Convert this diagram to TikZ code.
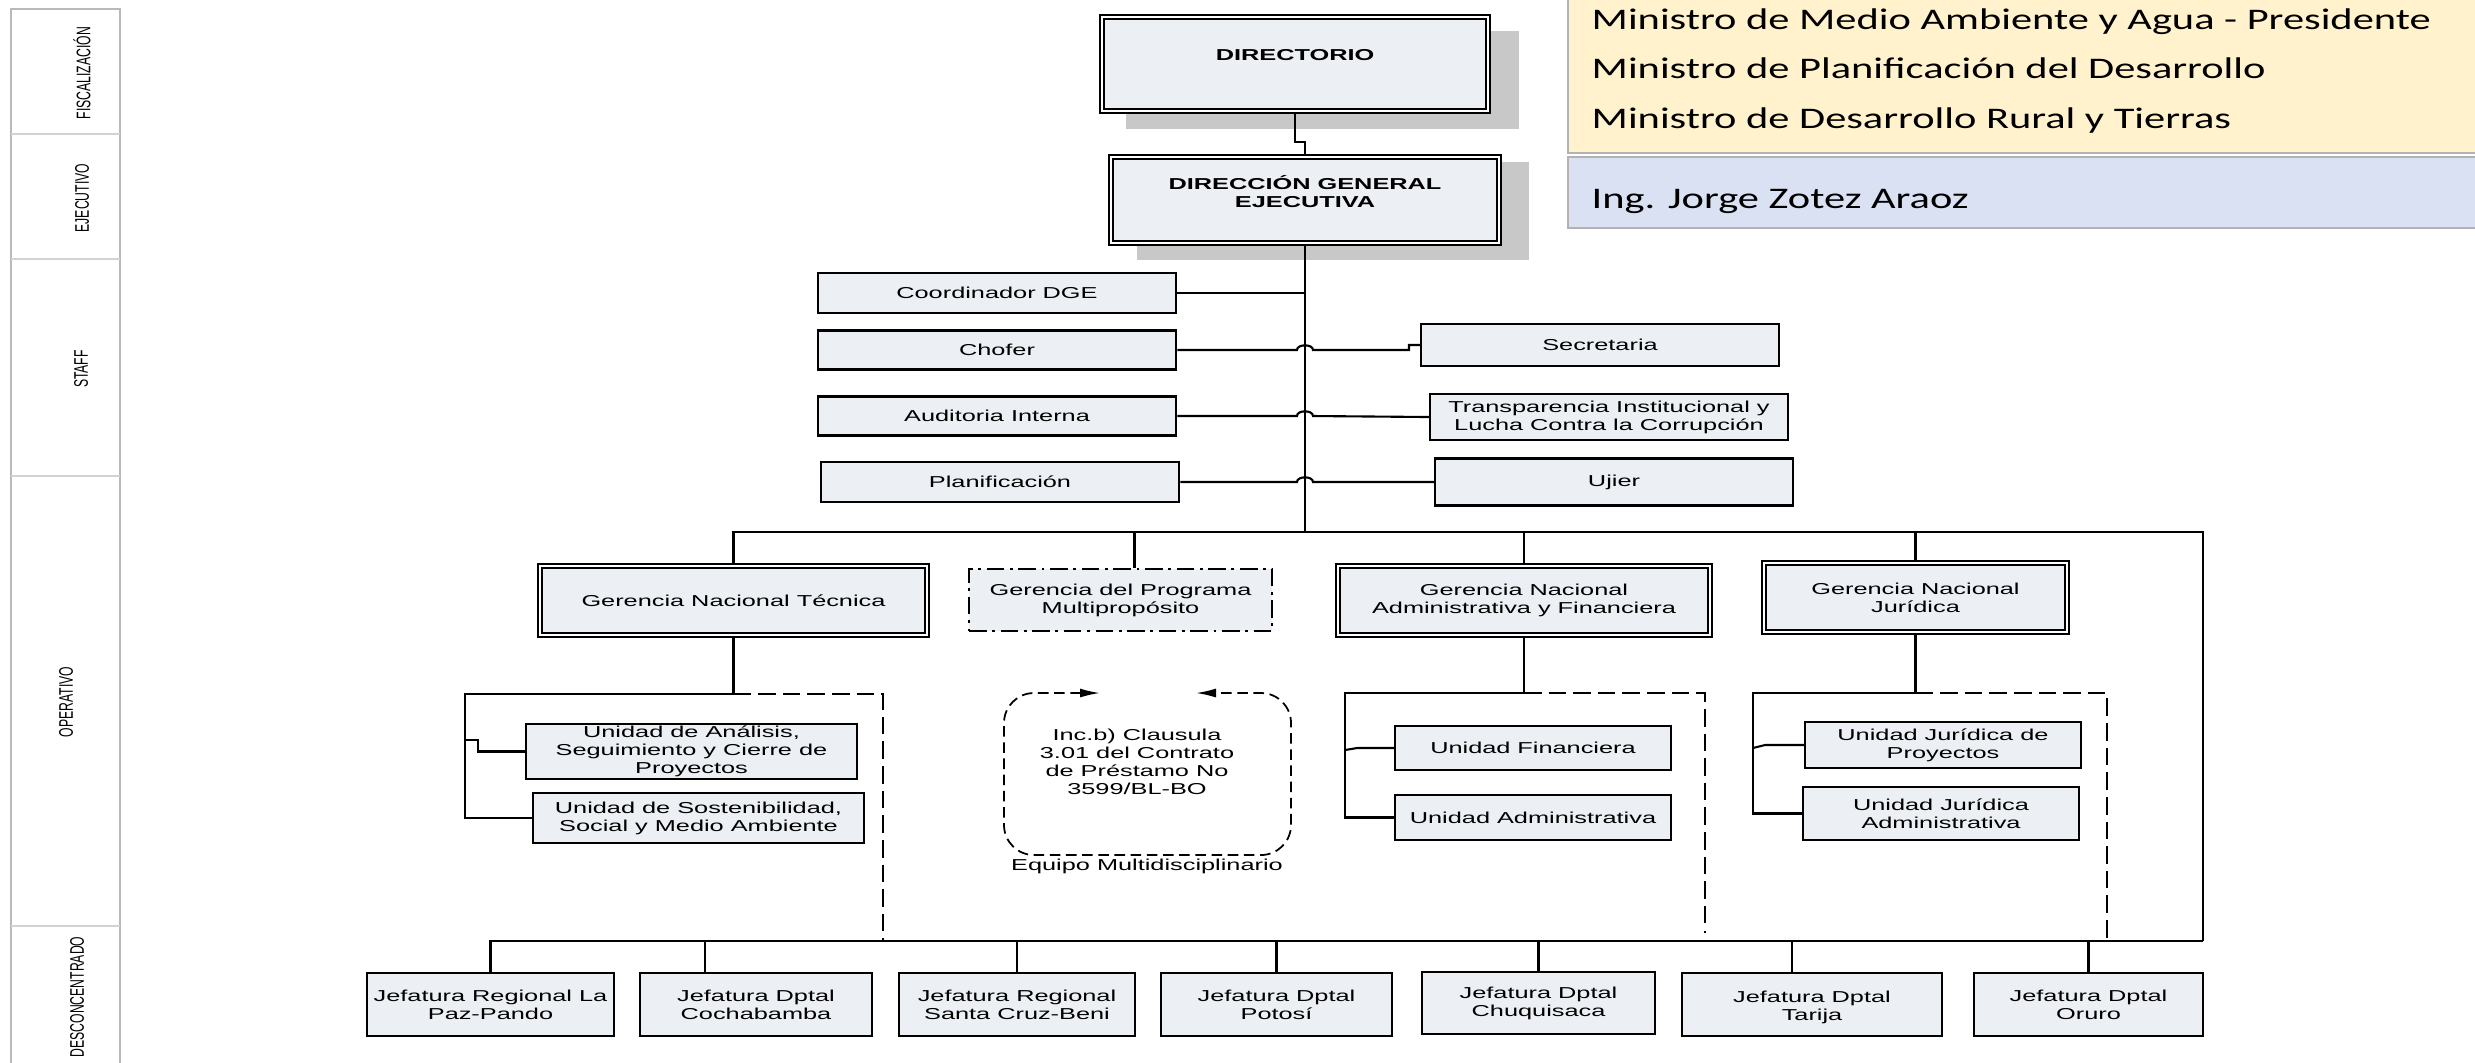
\documentclass[tikz,border=0pt]{standalone}
\usepackage{fontspec}
\setmainfont{Liberation Sans}[FakeStretch=1.6]
\newfontfamily\lanefont{Liberation Sans}[FakeStretch=0.62]
\newfontfamily\minfont{Carlito}[FakeStretch=1.42]
\usepackage{tikz}
\usetikzlibrary{arrows.meta,positioning,calc,backgrounds}
\definecolor{unitfill}{RGB}{236,239,244}
\definecolor{minyellow}{RGB}{255,242,204}
\definecolor{minblue}{RGB}{217,225,242}
\definecolor{shadegray}{RGB}{200,200,200}

\begin{document}
\begin{tikzpicture}[
    x=0.01cm, y=-0.01cm,
    unit/.style={draw, line width=0.65pt, fill=unitfill, align=center, inner sep=0pt,
        font=\fontsize{4.5}{5.1}\selectfont},
    chief/.style={unit, line width=0.55pt, double=white, double distance=0.6pt},
    board/.style={chief, font=\fontsize{4.5}{5.1}\selectfont\bfseries},
    program/.style={unit, dash pattern=on 5pt off 1.6pt on 0.8pt off 1.6pt},
    plain/.style={align=center, inner sep=0pt, font=\fontsize{4.5}{5.1}\selectfont},
    conn/.style={line width=0.6pt},
    dashconn/.style={line width=0.6pt, dash pattern=on 5pt off 2pt},
    team/.style={line width=0.5pt, dash pattern=on 3pt off 1.6pt, rounded corners=0.3cm},
    lane/.style={draw=gray!55, line width=0.6pt},
    lanetxt/.style={rotate=90, inner sep=0pt, font=\lanefont\fontsize{5.6}{6}\selectfont},
    mintxt/.style={anchor=west, align=left, inner sep=0pt, font=\minfont\fontsize{8.5}{14.2}\selectfont}
]
\useasboundingbox (0,0) rectangle (2475,1062);

% Lanes
\draw[lane] (11,9) rectangle (120,1080);
\foreach \y in {134,259,476,926}
    \draw[lane, draw=gray!35] (11,\y) -- (120,\y);
\node[lanetxt] (lfis) at (82,73) {FISCALIZACIÓN};
\node[lanetxt] (leje) at (82,198) {EJECUTIVO};
\node[lanetxt] (lsta) at (81,369) {STAFF};
\node[lanetxt] (lope) at (66,702) {OPERATIVO};
\node[lanetxt] (ldes) at (77,997) {DESCONCENTRADO};

% Board members
\filldraw[fill=minyellow, draw=gray!60, line width=0.8pt] (1568,-10) rectangle (2490,153);
\filldraw[fill=minblue, draw=gray!60, line width=0.8pt] (1568,157) rectangle (2490,228);
\node[mintxt] (mins) at (1591,71) {Ministro de Medio Ambiente y Agua - Presidente\\
    Ministro de Planificación del Desarrollo\\Ministro de Desarrollo Rural y Tierras};
\node[mintxt] (ing) at (1591,201) {Ing. Jorge Zotez Araoz};

% Top
\node[board, minimum width=3.86cm, minimum height=0.94cm] (dir) at (1295,64) {DIRECTORIO\\~};
\node[board, minimum width=3.88cm, minimum height=0.86cm] (dge) at (1305,200) {DIRECCIÓN GENERAL\\EJECUTIVA\\~};
\begin{scope}[on background layer]
\fill[shadegray] ($(dir.south west)+(25,17)$) rectangle ($(dir.north east)+(30,15)$);
\fill[shadegray] ($(dge.south west)+(27,16)$) rectangle ($(dge.north east)+(29,6)$);
\end{scope}

% Staff
\node[unit, minimum width=3.58cm, minimum height=0.40cm] (coord) at (997,293) {Coordinador DGE};
\node[unit, minimum width=3.58cm, minimum height=0.39cm] (chof) at (997,350) {Chofer};
\node[unit, minimum width=3.58cm, minimum height=0.39cm] (audi) at (997,416) {Auditoria Interna};
\node[unit, minimum width=3.58cm, minimum height=0.40cm] (plan) at (1000,482) {Planificación};
\node[unit, minimum width=3.58cm, minimum height=0.42cm] (secr) at (1600,345) {Secretaria};
\node[unit, minimum width=3.58cm, minimum height=0.46cm] (trans) at (1609,417) {Transparencia Institucional y\\Lucha Contra la Corrupción};
\node[unit, minimum width=3.58cm, minimum height=0.47cm] (ujier) at (1614,482) {Ujier};

% Gerencias
\node[chief, minimum width=3.87cm, minimum height=0.69cm] (gnt) at (733.5,600.5) {Gerencia Nacional Técnica};
\node[program, minimum width=3.03cm, minimum height=0.62cm] (gpm) at (1120.5,600) {Gerencia del Programa\\Multipropósito};
\node[chief, minimum width=3.72cm, minimum height=0.69cm] (gnaf) at (1524,600.5) {Gerencia Nacional\\Administrativa y Financiera};
\node[chief, minimum width=3.03cm, minimum height=0.69cm] (gnj) at (1915.5,597.5) {Gerencia Nacional\\Jurídica};

% Unidades
\node[unit, minimum width=3.31cm, minimum height=0.55cm] (uascp) at (691.5,751.5) {Unidad de Análisis,\\Seguimiento y Cierre de\\Proyectos};
\node[unit, minimum width=3.31cm, minimum height=0.50cm] (uss) at (698.5,818) {Unidad de Sostenibilidad,\\Social y Medio Ambiente};
\node[unit, minimum width=2.76cm, minimum height=0.44cm] (uf) at (1533,748) {Unidad Financiera};
\node[unit, minimum width=2.76cm, minimum height=0.45cm] (ua) at (1533,817.5) {Unidad Administrativa};
\node[unit, minimum width=2.76cm, minimum height=0.46cm] (ujp) at (1943,745) {Unidad Jurídica de\\Proyectos};
\node[unit, minimum width=2.76cm, minimum height=0.53cm] (uja) at (1941,813.5) {Unidad Jurídica\\Administrativa};

% Equipo
\node[plain] (eqtxt) at (1137,762) {Inc.b) Clausula\\3.01 del Contrato\\de Préstamo No\\3599/BL-BO};
\node[plain] (eqlbl) at (1147,866) {Equipo Multidisciplinario};
\draw[team, {Latex[length=0.2cm,width=0.09cm]}-{Latex[length=0.2cm,width=0.09cm]}]
    (1100,693) -- (1004,693) -- (1004,855) -- (1291,855) -- (1291,693) -- (1196,693);

% Jefaturas
\node[unit, minimum width=2.47cm, minimum height=0.63cm] (jlp) at (490.5,1004.5) {Jefatura Regional La\\Paz-Pando};
\node[unit, minimum width=2.32cm, minimum height=0.63cm] (jcb) at (756,1004.5) {Jefatura Dptal\\Cochabamba};
\node[unit, minimum width=2.36cm, minimum height=0.63cm] (jsc) at (1017,1004.5) {Jefatura Regional\\Santa Cruz-Beni};
\node[unit, minimum width=2.31cm, minimum height=0.63cm] (jpt) at (1276.5,1004.5) {Jefatura Dptal\\Potosí};
\node[unit, minimum width=2.33cm, minimum height=0.62cm] (jch) at (1538.5,1003) {Jefatura Dptal\\Chuquisaca};
\node[unit, minimum width=2.60cm, minimum height=0.63cm] (jta) at (1812,1004.5) {~\\Jefatura Dptal\\Tarija};
\node[unit, minimum width=2.29cm, minimum height=0.63cm] (jor) at (2088.5,1004.5) {Jefatura Dptal\\Oruro};

% Junctions
\coordinate (bus) at (1305,532);
\coordinate (busR) at (2203,532);
\coordinate (bbus) at (1305,941);
\coordinate (bbusL) at (489,941);
\coordinate (bbusR) at (2203,941);
\coordinate (tj) at (733.5,694);
\coordinate (tl) at (465,694);
\coordinate (tr) at (883,694);
\coordinate (aj) at (1524,693);
\coordinate (al) at (1345,693);
\coordinate (ar) at (1705,693);
\coordinate (jj) at (1915.5,693);
\coordinate (jl) at (1753,693);
\coordinate (jr) at (2107,693);

% Edges
\draw[conn] (dir.south) -- ++(0,30) -| (dge.north);
\draw[conn] (dge.south) -- (bus);
\draw[conn] (coord.east) -- (coord.east -| dge.south);
\draw[conn] (chof.east) -- ($(chof.east -| dge.south)+(-8,0)$) to[bend left=90] ++(16,0) -- ++(96,0) |- (secr.west);
\draw[conn] (audi.east) -- ($(audi.east -| dge.south)+(-8,0)$) to[bend left=90] ++(16,0) -- (trans.west);
\draw[conn] (plan.east) -- ($(plan.east -| dge.south)+(-8,0)$) to[bend left=90] ++(16,0) -- (ujier.west);
\draw[conn] (gnt.north) |- (busR) -- (bbusR);
\draw[conn] ($(gpm.north)+(14,0)$) -- ($(gpm.north)+(14,-37)$);
\draw[conn] (gnaf.north) -- (gnaf.north |- bus);
\draw[conn] (gnj.north) -- (gnj.north |- bus);

\draw[conn] (gnt.south) -- (tj) -- (tl) |- (uss.west);
\draw[conn] (tl |- 0,740) -| ($(uascp.west)+(-47,0)$) -- (uascp.west);
\draw[dashconn] (tj) -- (tr) -- (tr |- bbus);

\draw[conn] (gnaf.south) -- (aj) -- (al) |- (ua.west);
\draw[conn] (al |- 0,750) -- ++(12,-2) -- (uf.west);
\draw[dashconn] (aj) -- (ar) -- ($(ar |- bbus)+(0,-8)$);

\draw[conn] (gnj.south) -- (jj) -- (jl) |- (uja.west);
\draw[conn] (jl |- 0,748) -- ++(12,-3) -- (ujp.west);
\draw[dashconn] (jj) -- (jr) -- (jr |- bbus);

\draw[conn] (bbusL) -- (bbusR);
\foreach \j in {jlp,jsc,jpt,jch,jor}
    \draw[conn] (\j.north) -- (\j.north |- bbus);
\draw[conn] ($(jcb.north)+(-51,0)$) -- ($(jcb.north)+(-51,-32)$);
\draw[conn] ($(jta.north)+(-20,0)$) -- ($(jta.north)+(-20,-32)$);
\end{tikzpicture}
\end{document}
